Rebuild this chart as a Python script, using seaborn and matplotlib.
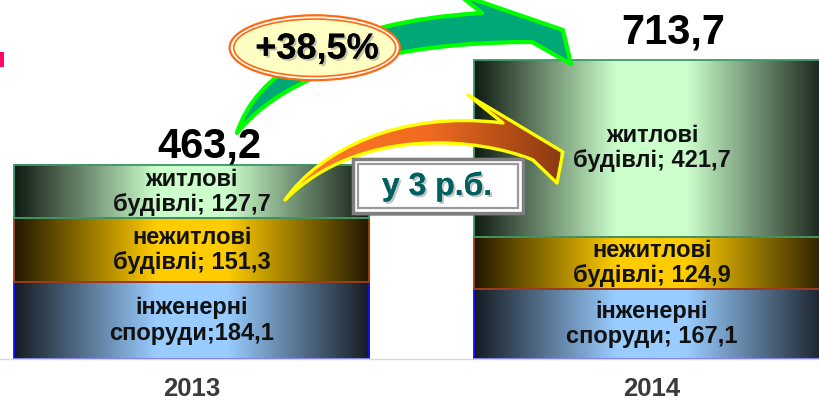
import numpy as np
import pandas as pd
import seaborn as sns
import matplotlib.pyplot as plt
import matplotlib.patheffects as pe
from matplotlib.colors import LinearSegmentedColormap
from matplotlib.patches import Ellipse, Rectangle, PathPatch
from matplotlib.path import Path

# data
years = ['2013', '2014']
engineering = [184.1, 167.1]      # інженерні споруди
nonresidential = [151.3, 124.9]   # нежитлові будівлі
residential = [127.7, 421.7]      # житлові будівлі
totals = [463.2, 713.7]
seg_names = ['інженерні\nспоруди;', 'нежитлові\nбудівлі;', 'житлові\nбудівлі;']
eng_sep = ['', ' ']               # 2013 label has no space after ';'
growth_label = '+38,5%'
ratio_label = 'у 3 р.б.'

sns.set_style('white')
plt.rcParams['font.family'] = ['Liberation Sans', 'DejaVu Sans']
plt.rcParams['font.weight'] = 'bold'

df = pd.DataFrame({'year': years, 'eng': engineering,
                   'nonres': nonresidential, 'res': residential})
stack = df[['eng', 'nonres', 'res']].cumsum(axis=1)

W, H = 819, 401
fig = plt.figure(figsize=(W / 100, H / 100), dpi=100)
ax = fig.add_axes([0, 42 / H, 1, 359 / H])

# stacked bars: tallest first, then overlay
for col in ['res', 'nonres', 'eng']:
    sns.barplot(x=df['year'], y=stack[col], width=0.772, color='white',
                errorbar=None, linewidth=0, ax=ax)

ax.set_xlim(-0.417, 1.363)
ax.set_ylim(0, 857)

styles = {
    'eng': dict(dark='#151b22', light='#99ccff', edge='#1010ff'),
    'nonres': dict(dark='#221800', light='#ffcc00', edge='#a8400c'),
    'res': dict(dark='#101a12', light='#ccffcc', edge='#3a9a6a'),
}
order = ['res', 'nonres', 'eng']
below = {'res': 'nonres', 'nonres': 'eng', 'eng': None}
grad = np.linspace(0, 1, 256)[None, :]

for k, col in enumerate(order):
    st = styles[col]
    cmap = LinearSegmentedColormap.from_list(
        col, [(0, st['dark']), (0.4, st['light']), (0.6, st['light']), (1, st['dark'])])
    for i in range(len(years)):
        p = ax.patches[k * len(years) + i]
        y0 = stack[below[col]][i] if below[col] else 0
        y1 = stack[col][i]
        p.set_y(y0)
        p.set_height(y1 - y0)
        x0, w = p.get_x(), p.get_width()
        ax.imshow(grad, cmap=cmap, extent=(x0, x0 + w, y0, y1), aspect='auto',
                  interpolation='bilinear', zorder=1 + k * 0.01)
        p.set_facecolor('none')
        p.set_edgecolor(st['edge'])
        p.set_linewidth(1.3)
        p.set_zorder(2 - k * 0.1)
        if col == 'eng':
            ax.plot([x0, x0 + w], [0.8, 0.8], color='#7a7aff', lw=1.3, zorder=2.5)
            lab = seg_names[0] + eng_sep[i] + f'{engineering[i]:.1f}'
        elif col == 'nonres':
            lab = seg_names[1] + ' ' + f'{nonresidential[i]:.1f}'
        else:
            lab = seg_names[2] + ' ' + f'{residential[i]:.1f}'
        ax.text(x0 + w / 2, (y0 + y1) / 2, lab.replace('.', ','), ha='center',
                va='center', fontsize=17, fontweight='bold', linespacing=1.12,
                color='#111111', zorder=3)

# totals above bars
total_dx = [0.037, 0.046]
total_lift = [19, 40]
for i, t in enumerate(totals):
    ax.text(i + total_dx[i], stack['res'][i] + total_lift[i], f'{t:.1f}'.replace('.', ','),
            ha='center', va='baseline', fontsize=30, fontweight='bold', color='black', zorder=5)


# curved block arrows, outlined in picture pixels (y down)
def arrow_path(tail, outer_ctrl, outer_end, head, inner_end, inner_ctrl):
    pts = [tail, *outer_ctrl, outer_end, *head, inner_end, *inner_ctrl, tail, tail]
    codes = ([Path.MOVETO] + [Path.CURVE4] * 3 + [Path.LINETO] * (len(head) + 1)
             + [Path.CURVE4] * 3 + [Path.CLOSEPOLY])
    inv = ax.transData.inverted()
    verts = inv.transform([(x, H - y) for x, y in pts])
    return Path(verts, codes)


gpath = arrow_path((237, 133), [(255, 75), (330, 22)], (482, 13),
                   [(458, -6), (563, 30), (571, 64)], (532, 42),
                   [(440, 42), (300, 55)])
ax.add_patch(PathPatch(gpath, facecolor='#00a878', edgecolor='#00ff00', linewidth=3,
                       joinstyle='round', zorder=4, clip_on=False))

ax.add_patch(Ellipse((0.267, 743), 0.37, 155, facecolor='white', edgecolor='#ff6a10',
                     linewidth=1.6, zorder=6, clip_on=False))
ax.add_patch(Ellipse((0.267, 743), 0.352, 137, facecolor='#ffffc4', edgecolor='#ff6a10',
                     linewidth=1.2, zorder=6.1, clip_on=False))
ax.text(0.272, 740, growth_label, ha='center', va='center', fontsize=26, fontweight='bold',
        color='black', zorder=7,
        path_effects=[pe.withSimplePatchShadow(offset=(1.5, -1.5), shadow_rgbFace='#888888', alpha=0.5),
                      pe.Normal()])

opath = arrow_path((285, 200), [(320, 150), (400, 110)], (503, 123),
                   [(468, 95), (563, 152), (557, 183)], (533, 160),
                   [(480, 138), (360, 125)])
oclip = PathPatch(opath, facecolor='none', edgecolor='none', zorder=4)
ax.add_patch(oclip)
ocmap = LinearSegmentedColormap.from_list('o', ['#ff7a24', '#f06a20', '#8c3a12'])
inv = ax.transData.inverted()
(ox0, oy0), (ox1, oy1) = inv.transform([(300, H - 210), (560, H - 90)])
oimg = ax.imshow(grad, cmap=ocmap, extent=(ox0, ox1, oy0, oy1), aspect='auto',
                 interpolation='bilinear', zorder=4.1)
oimg.set_clip_path(oclip)
ax.add_patch(PathPatch(opath, facecolor='none', edgecolor='#ffff00', linewidth=2.4,
                       joinstyle='round', zorder=4.2))

# boxed label
ax.add_patch(Rectangle((0.35, 348.5), 0.37, 129, facecolor='white', edgecolor='#7f7f7f',
                       linewidth=2.4, zorder=6,
                       path_effects=[pe.withSimplePatchShadow(offset=(2, -2), alpha=0.4), pe.Normal()]))
ax.add_patch(Rectangle((0.361, 360.5), 0.348, 105, facecolor='white', edgecolor='#9a9a9a',
                       linewidth=1.6, zorder=6.1))
ax.text(0.533, 411, ratio_label, ha='center', va='center', fontsize=23, fontweight='bold',
        color='#006060', zorder=7,
        path_effects=[pe.withSimplePatchShadow(offset=(1.5, -1.5), shadow_rgbFace='#888888', alpha=0.5),
                      pe.Normal()])

# pink mark at left edge
fig.patches.append(Rectangle((0, 1 - 67 / H), 4 / W, 15 / H, transform=fig.transFigure,
                             facecolor='#ff0a6a', edgecolor='none'))

# axes styling
ax.set_xlim(-0.417, 1.363)
ax.set_ylim(0, 857)
sns.despine(ax=ax, left=True, top=True, right=True)
ax.spines['bottom'].set_color('#d9d9d9')
ax.spines['bottom'].set_linewidth(1)
ax.set_yticks([])
ax.set_xlabel('')
ax.set_ylabel('')
ax.set_xticks(range(len(years)))
ax.set_xticklabels(years, fontsize=18.5, fontweight='bold', color='#3a3a3a')
ax.tick_params(axis='x', length=0, pad=13)

fig.savefig('out.png', dpi=100)
